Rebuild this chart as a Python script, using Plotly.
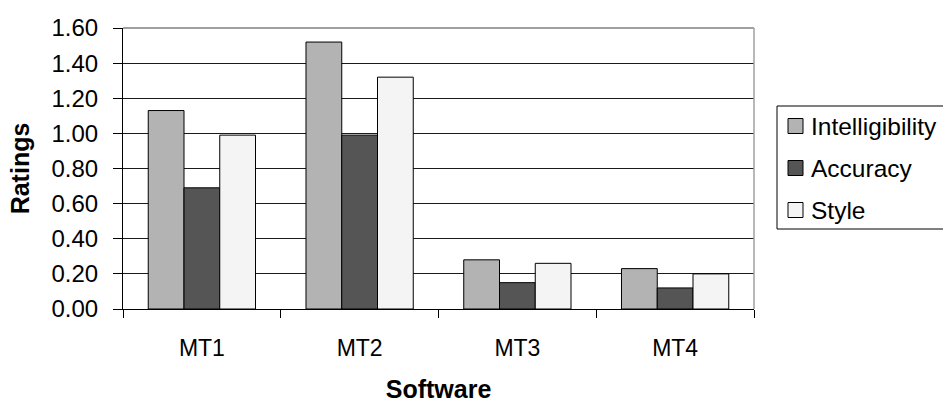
import plotly.graph_objects as go

# Ratings per MT system
software = ["MT1", "MT2", "MT3", "MT4"]
intelligibility = [1.13, 1.52, 0.28, 0.23]
accuracy = [0.69, 0.99, 0.15, 0.12]
style = [0.99, 1.32, 0.26, 0.20]

series_names = ["Intelligibility", "Accuracy", "Style"]
series_values = [intelligibility, accuracy, style]
series_colors = ["#b3b3b3", "#555555", "#f4f4f4"]

FONT = "Liberation Sans, Arial, Helvetica, sans-serif"

# Plot-area geometry in pixels (used to place the boxed legend in paper units)
W, H = 943, 403
ML, MR, MT, MB = 123, 189, 28, 94
PW, PH = W - ML - MR, H - MT - MB


def px_x(px):
    return (px - ML) / PW


def px_y(py):
    return (H - MB - py) / PH


fig = go.Figure()
for name, vals, color in zip(series_names, series_values, series_colors):
    fig.add_trace(go.Bar(
        x=software, y=vals, name=name,
        marker=dict(color=color, line=dict(color="#000000", width=1)),
    ))

# Boxed legend to the right of the plot, running off the page edge
shapes = [
    dict(type="rect", xref="paper", yref="paper",
         x0=px_x(777), x1=px_x(990), y0=px_y(229), y1=px_y(106),
         line=dict(color="#000000", width=1), fillcolor="white", layer="above"),
]
annotations = []
for i, (name, color) in enumerate(zip(series_names, series_colors)):
    cy = 126 + 42 * i
    shapes.append(dict(
        type="rect", xref="paper", yref="paper",
        x0=px_x(788), x1=px_x(803), y0=px_y(cy + 7.5), y1=px_y(cy - 7.5),
        line=dict(color="#000000", width=1), fillcolor=color, layer="above"))
    annotations.append(dict(
        xref="paper", yref="paper", x=px_x(809), y=px_y(cy),
        xanchor="left", yanchor="middle", showarrow=False,
        text=name, font=dict(family=FONT, size=24.5, color="#000000")))

# Plot-area frame: grey top and right edges
shapes += [
    dict(type="line", xref="paper", yref="paper", x0=0, x1=1, y0=1, y1=1,
         line=dict(color="#808080", width=1.5), layer="above"),
    dict(type="line", xref="paper", yref="paper", x0=1, x1=1, y0=0, y1=1,
         line=dict(color="#a0a0a0", width=1.5), layer="above"),
]

fig.update_layout(
    width=W, height=H,
    margin=dict(l=ML, r=MR, t=MT, b=MB, autoexpand=False),
    paper_bgcolor="white", plot_bgcolor="white",
    barmode="group", bargap=0.32, bargroupgap=0,
    font=dict(family=FONT, size=23, color="#000000"),
    showlegend=False,
    xaxis=dict(
        title=dict(text="<b>Software</b>", font=dict(size=25), standoff=28),
        tickfont=dict(size=23), automargin=False,
        showline=True, linecolor="#000000", linewidth=1,
        ticks="outside", tickson="boundaries", ticklen=8, tickcolor="#000000",
        ticklabelstandoff=18, showgrid=False,
    ),
    yaxis=dict(
        title=dict(text="<b>Ratings</b>", font=dict(size=25), standoff=14),
        tickfont=dict(size=24), automargin=False,
        range=[0, 1.6], dtick=0.2, tickformat=".2f",
        showline=True, linecolor="#000000", linewidth=1,
        ticks="outside", ticklen=9, tickcolor="#000000",
        showgrid=True, gridcolor="#1a1a1a", gridwidth=1,
        zeroline=False, ticklabelstandoff=10,
    ),
    shapes=shapes,
    annotations=annotations,
)

fig.write_html("out.html")
